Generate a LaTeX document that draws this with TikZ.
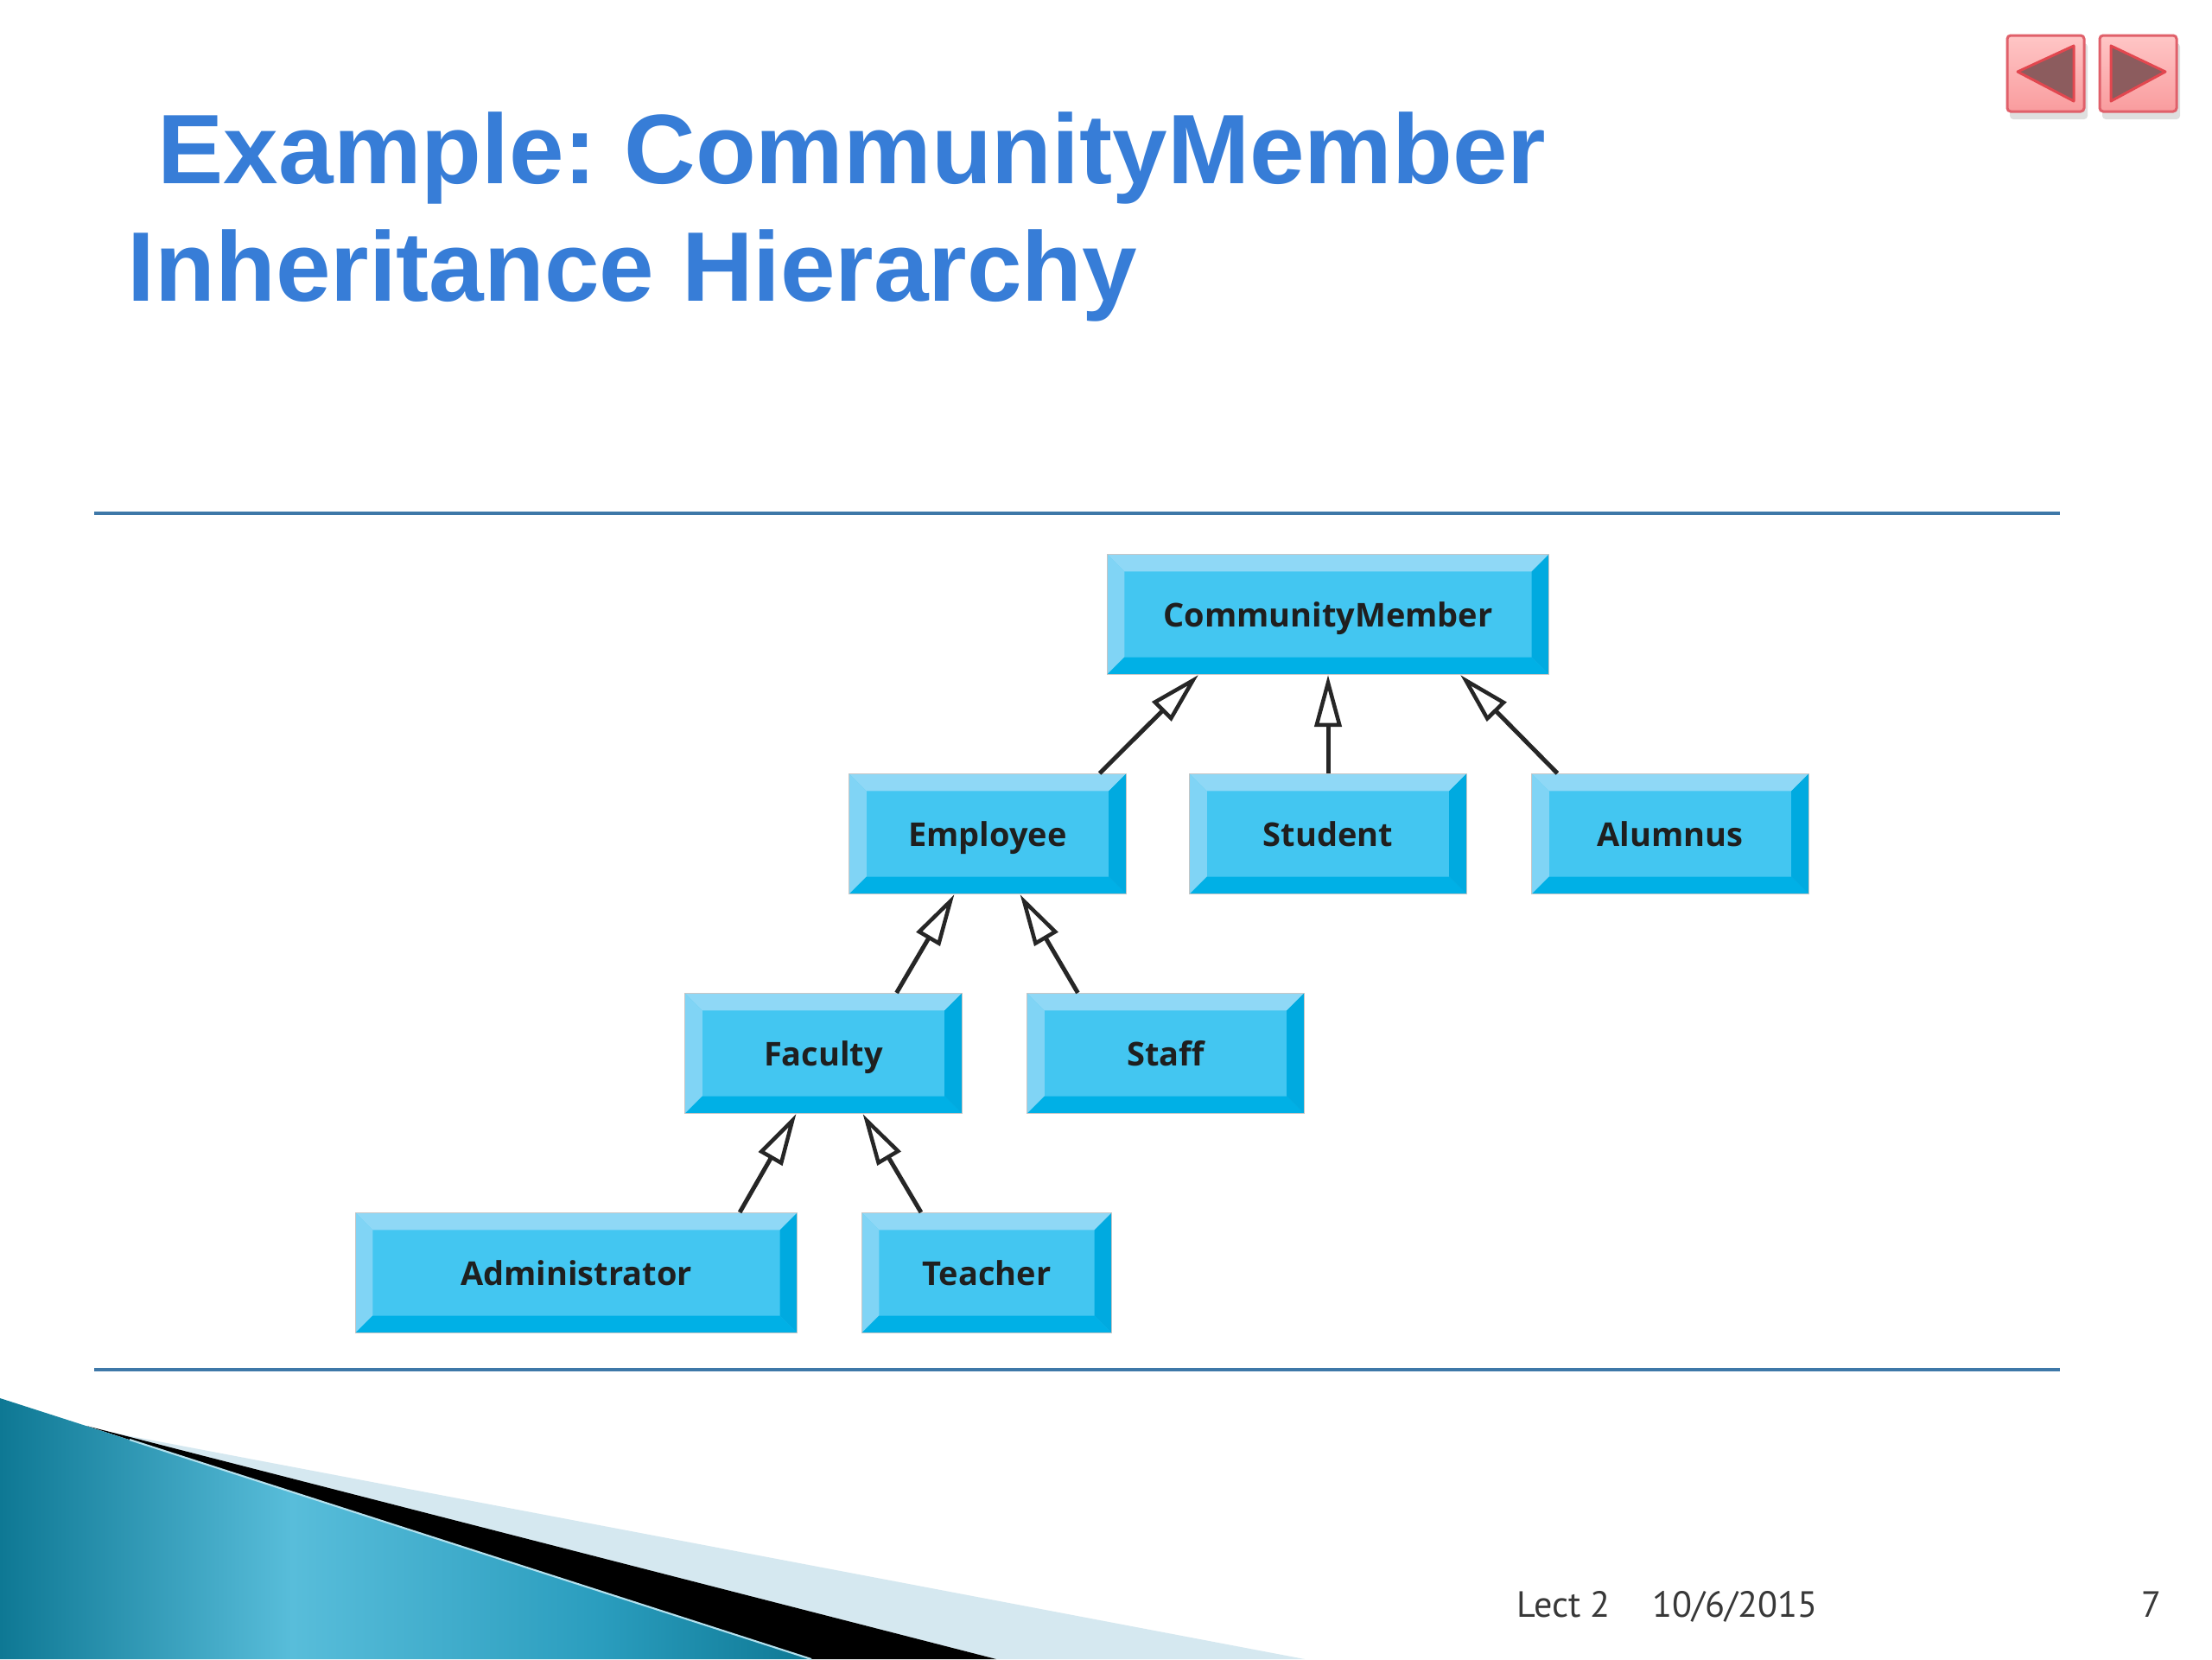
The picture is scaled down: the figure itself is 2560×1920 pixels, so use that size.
\documentclass[tikz,border=0pt]{standalone}
\usepackage{fontspec}
\usetikzlibrary{arrows.meta}
\newfontfamily\boxfont{Open Sans}
\newfontfamily\titlefont{Liberation Sans}
\newfontfamily\footfont{PT Sans}
\definecolor{bleu}{HTML}{43C6F1}
\definecolor{bleuclair}{HTML}{8FD8F6}
\definecolor{bleufonce}{HTML}{00B0E6}
\definecolor{bleudroit}{HTML}{00AAE0}
\definecolor{titrebleu}{RGB}{55,125,215}
\definecolor{filet}{HTML}{3E78A8}
\definecolor{tealsombre}{HTML}{0E7894}
\definecolor{tealclair}{HTML}{58BDDA}
\definecolor{tealmoyen}{HTML}{2A9DBE}
\definecolor{bandeclaire}{HTML}{D5E8F0}
\definecolor{rosec}{HTML}{FFC6C6}
\definecolor{roseb}{HTML}{F99C9E}
\definecolor{rosebord}{HTML}{E0606A}
\definecolor{flechebrune}{HTML}{8C5C5E}
\definecolor{flechebord}{HTML}{E2474F}
\pgfdeclarehorizontalshading{tealbande}{100bp}{color(0bp)=(tealsombre); color(25bp)=(tealsombre); color(43bp)=(tealclair); color(62bp)=(tealmoyen); color(75bp)=(tealsombre); color(100bp)=(tealsombre)}

\begin{document}
\frenchspacing
\begin{tikzpicture}[x=0.01cm, y=-0.01cm]
\tikzset{boite/.style={minimum width=3.2cm, minimum height=1.39cm, inner sep=0pt, text height=0.84em, text depth=0pt, fill=bleu, draw=gray!45, line width=0.3pt, text=black!88, font=\boxfont\bfseries\fontsize{10.8}{12}\selectfont,
  path picture={
    \coordinate (hg) at (path picture bounding box.north west);
    \coordinate (hd) at (path picture bounding box.north east);
    \coordinate (bg) at (path picture bounding box.south west);
    \coordinate (bd) at (path picture bounding box.south east);
    \fill[bleuclair] (hg) -- (hd) -- ([shift={(-0.2cm,-0.2cm)}]hd) -- ([shift={(0.2cm,-0.2cm)}]hg) -- cycle;
    \fill[bleuclair!80!bleu] (hg) -- ([shift={(0.2cm,-0.2cm)}]hg) -- ([shift={(0.2cm,0.2cm)}]bg) -- (bg) -- cycle;
    \fill[bleufonce] (bg) -- ([shift={(0.2cm,0.2cm)}]bg) -- ([shift={(-0.2cm,0.2cm)}]bd) -- (bd) -- cycle;
    \fill[bleudroit] (bd) -- ([shift={(-0.2cm,0.2cm)}]bd) -- ([shift={(-0.2cm,-0.2cm)}]hd) -- (hd) -- cycle;
  }},
  herite/.style={-{Triangle[open, length=0.6cm, width=0.31cm, line width=0.045cm]}, line width=0.05cm, black!85},
  titre/.style={anchor=base west, inner sep=0pt, text=titrebleu, font=\titlefont\bfseries\fontsize{32.5}{38}\selectfont},
  pied/.style={anchor=base west, inner sep=0pt, text=black!78, font=\footfont\fontsize{12}{14}\selectfont},
  filetbleu/.style={filet, line width=0.045cm}}
\useasboundingbox (0,0) rectangle (2560,1920);
\fill[white] (0,0) rectangle (2560,1920);
\fill[bandeclaire] (125,1657) -- (1510,1920) -- (1153,1920) -- cycle;
\fill[black] (100,1650) -- (1153,1920) -- (939,1920) -- cycle;
\shade[shading=tealbande] (0,1618) -- (939,1920) -- (0,1920) -- cycle;
\draw[white!55!tealclair, line width=0.6pt] (150,1666) -- (939,1920);
\draw[filetbleu] (109,594) -- (2384,594);
\draw[filetbleu] (109,1585) -- (2384,1585);
\node[titre] (T1) at (182,212) {Example: CommunityMember};
\node[titre] (T2) at (147,348) {Inheritance Hierarchy};
\fill[gray!70, opacity=0.35, rounded corners=0.04cm] (2326,50) rectangle (2416,138);
\fill[gray!70, opacity=0.35, rounded corners=0.04cm] (2433,50) rectangle (2523,138);
\shade[top color=rosec, bottom color=roseb, draw=rosebord, line width=0.03cm, rounded corners=0.04cm] (2323,41) rectangle (2412,129);
\shade[top color=rosec, bottom color=roseb, draw=rosebord, line width=0.03cm, rounded corners=0.04cm] (2430,41) rectangle (2519,129);
\filldraw[fill=flechebrune, draw=flechebord, line width=0.03cm, line join=round] (2335,83) -- (2400,53) -- (2400,117) -- cycle;
\filldraw[fill=flechebrune, draw=flechebord, line width=0.03cm, line join=round] (2443,53) -- (2506,83) -- (2443,117) -- cycle;
\node[boite, minimum width=5.11cm] (C1) at (1537,711) {CommunityMember};
\node[boite] (C2) at (1143,965) {Employee};
\node[boite] (C3) at (1537,965) {Student};
\node[boite] (C4) at (1933,965) {Alumnus};
\node[boite] (C5) at (953,1219) {Faculty};
\node[boite] (C6) at (1349,1219) {Staff};
\node[boite, minimum width=5.11cm] (C7) at (667,1473) {Administrator};
\node[boite, minimum width=2.89cm] (C8) at (1142,1473) {Teacher};
\draw[herite] ([xshift=-0.31cm]C2.north east) -- ([xshift=1.06cm]C1.south west);
\draw[herite] (C3.north) -- (C1.south);
\draw[herite] ([xshift=0.30cm]C4.north west) -- ([xshift=-1.03cm]C1.south east);
\draw[herite] ([xshift=-0.76cm]C5.north east) -- ([xshift=1.22cm]C2.south west);
\draw[herite] ([xshift=0.59cm]C6.north west) -- ([xshift=-1.23cm]C2.south east);
\draw[herite] ([xshift=-0.67cm]C7.north east) -- ([xshift=1.29cm]C5.south west);
\draw[herite] ([xshift=0.69cm]C8.north west) -- ([xshift=-1.15cm]C5.south east);
\node[pied] (P1) at (1755,1871) {Lect 2};
\node[pied] (P2) at (1912,1871) {10/6/2015};
\node[pied] (P3) at (2478,1871) {7};
\end{tikzpicture}
\end{document}
